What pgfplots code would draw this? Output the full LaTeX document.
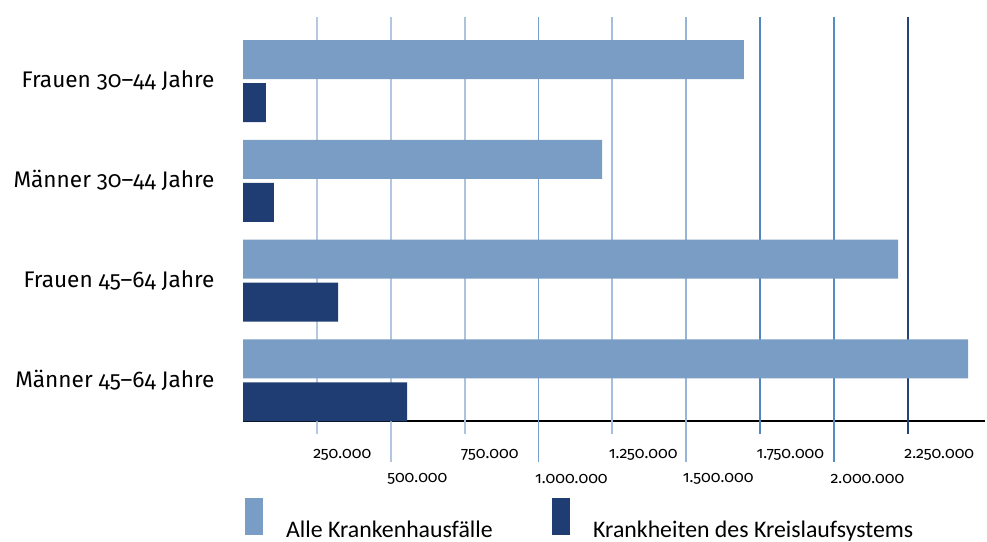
\documentclass[border=0pt]{standalone}
\usepackage{fontspec}
\setmainfont{Fira Sans}[Numbers=OldStyle]
\newfontfamily\legfont{Carlito}
\usepackage{pgfplots}
\pgfplotsset{compat=1.18}
\definecolor{barlight}{RGB}{121,157,196}
\definecolor{bardark}{RGB}{31,61,114}
\definecolor{ga}{RGB}{183,201,224}
\definecolor{gb}{RGB}{178,198,223}
\definecolor{gc}{RGB}{172,194,221}
\definecolor{gd}{RGB}{120,160,205}
\definecolor{ge}{RGB}{165,190,219}
\definecolor{gf}{RGB}{150,180,215}
\definecolor{gg}{RGB}{80,135,190}
\definecolor{gh}{RGB}{85,140,195}
\definecolor{gi}{RGB}{38,68,120}
\begin{document}
\begin{tikzpicture}
\path[use as bounding box] (0pt,0pt) rectangle (987pt,-541pt);
\begin{axis}[
  at={(243pt,-421pt)}, anchor=south west,
  scale only axis, width=742pt, height=404pt,
  xmin=0, xmax=2511000, ymin=-0.4085, ymax=3.642,
  clip=false, scaled x ticks=false,
  axis lines*=left,
  y axis line style={draw=none},
  x axis line style={line width=1.6pt, black},
  major tick length=0pt,
  ytick={0,1,2,3},
  yticklabels={Männer 45–64 Jahre, Frauen 45–64 Jahre, Männer 30–44 Jahre, Frauen 30–44 Jahre},
  yticklabel style={font=\fontsize{22.6}{26}\selectfont, xshift=-25pt},
  xtick={250000,750000,1250000,1750000,2250000},
  xticklabels={250.000,750.000,1.250.000,1.750.000,2.250.000},
  xticklabel style={anchor=west, font=\fontsize{16}{18}\selectfont, xshift=-7pt, yshift=-34pt},
  extra x ticks={500000,1000000,1500000,2000000},
  extra x tick labels={500.000,1.000.000,1.500.000,2.000.000},
  extra x tick style={xticklabel style={yshift=-24pt}},
  legend columns=2,
  legend style={draw=none, fill=none, at={(0.0027,-0.1906)}, anchor=north west,
    inner sep=0pt, nodes={inner sep=0pt}, font=\legfont\fontsize{23.8}{28}\selectfont},
  legend cell align=left,
  legend image code/.code={\fill[#1] (0pt,-5pt) rectangle (18pt,32pt);
    \path[draw=none, fill=none] (0pt,0pt) -- (41pt,0pt);},
]
\draw[ga, line width=1.8pt] (axis cs:250000,3.642) -- (axis cs:250000,-0.4085) -- ++(0pt,-13pt);
\draw[gb, line width=1.8pt] (axis cs:500000,3.642) -- (axis cs:500000,-0.4085) -- ++(0pt,-41pt);
\draw[gc, line width=1.8pt] (axis cs:750000,3.642) -- (axis cs:750000,-0.4085) -- ++(0pt,-13pt);
\draw[gd, line width=1.8pt] (axis cs:1000000,3.642) -- (axis cs:1000000,-0.4085) -- ++(0pt,-41pt);
\draw[ge, line width=1.8pt] (axis cs:1250000,3.642) -- (axis cs:1250000,-0.4085) -- ++(0pt,-13pt);
\draw[gf, line width=1.8pt] (axis cs:1500000,3.642) -- (axis cs:1500000,-0.4085) -- ++(0pt,-41pt);
\draw[gg, line width=1.8pt] (axis cs:1750000,3.642) -- (axis cs:1750000,-0.4085) -- ++(0pt,-13pt);
\draw[gh, line width=1.8pt] (axis cs:2000000,3.642) -- (axis cs:2000000,-0.4085) -- ++(0pt,-41pt);
\draw[gi, line width=1.8pt] (axis cs:2250000,3.642) -- (axis cs:2250000,-0.4085) -- ++(0pt,-13pt);
\addplot[xbar, bar width=0.391, bar shift=0.2155, fill=barlight, draw=none]
  coordinates {(2453500,0) (2216600,1) (1214900,2) (1695400,3)};
\addlegendentry{\makebox[266pt][l]{Alle Krankenhausfälle}}
\addplot[xbar, bar width=0.391, bar shift=-0.2155, fill=bardark, draw=none]
  coordinates {(555000,0) (321500,1) (104900,2) (77800,3)};
\addlegendentry{Krankheiten des Kreislaufsystems}
\end{axis}
\end{tikzpicture}
\end{document}
